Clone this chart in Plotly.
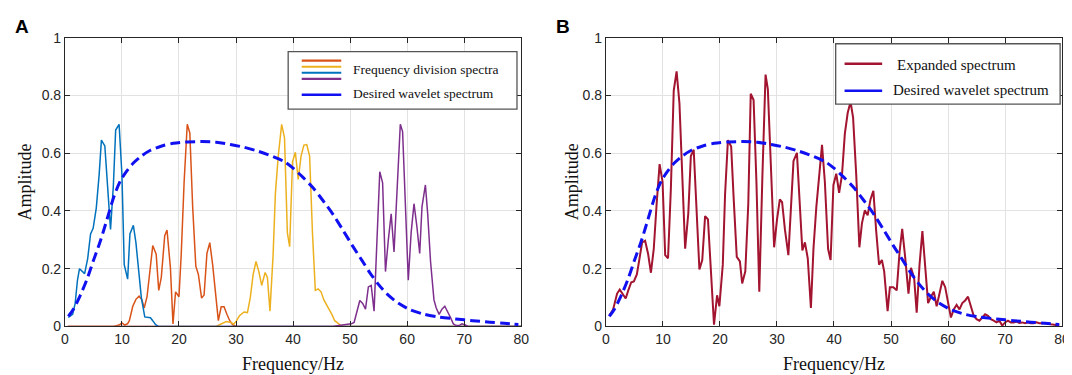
import plotly.graph_objects as go

# ---------------- data ----------------
# Desired wavelet spectrum (same curve in both panels)
wav_x = [0.6, 1.5, 2.7, 3.9, 5.0, 6.2, 7.4, 8.6, 9.7, 10.8, 12.0, 13.4, 15.0, 17.0, 19.0, 21.5, 24.0,
         26.5, 29.0, 31.5, 34.0, 36.5, 38.5, 40.0, 41.7, 43.5, 45.2, 47.0, 48.7, 50.4, 52.1, 53.5, 55.0,
         56.5, 58.5, 60.5, 63.0, 65.5, 68.5, 71.5, 74.5, 77.0, 79.5]
wav_y = [0.035, 0.06, 0.108, 0.165, 0.228, 0.295, 0.372, 0.45, 0.503, 0.537, 0.566, 0.59, 0.61, 0.625,
         0.634, 0.639, 0.64, 0.638, 0.63, 0.62, 0.606, 0.588, 0.57, 0.548, 0.517, 0.48, 0.437, 0.388,
         0.335, 0.28, 0.228, 0.185, 0.145, 0.112, 0.08, 0.058, 0.042, 0.033, 0.026, 0.02, 0.015, 0.011, 0.007]

# Frequency division spectra (panel A)
blue_x = [0.6, 1.36, 1.8, 2.2, 2.56, 3.46, 4.0, 4.5, 4.95, 5.5, 6.0, 6.4, 7.0, 7.45, 8.0, 8.5, 8.9, 9.5,
          10.0, 10.4, 11.0, 11.4, 12.0, 12.45, 12.9, 13.4, 14.0, 14.5, 15.0, 15.4, 15.9, 16.4, 80.0]
blue_y = [0.031, 0.042, 0.08, 0.16, 0.20, 0.183, 0.236, 0.32, 0.34, 0.41, 0.525, 0.645, 0.625, 0.49,
          0.336, 0.49, 0.68, 0.70, 0.525, 0.214, 0.164, 0.32, 0.35, 0.29, 0.20, 0.10, 0.033, 0.031,
          0.03, 0.02, 0.006, 0.0, 0.0]

orange_x = [0.5, 8.5, 9.5, 10.0, 10.5, 11.0, 11.3, 11.9, 12.45, 13.0, 13.5, 13.9, 14.4, 14.95, 15.4,
            16.0, 16.45, 16.9, 17.5, 17.9, 18.5, 18.95, 19.4, 20.0, 20.4, 20.9, 21.45, 21.9, 22.4,
            22.95, 23.4, 23.96, 24.4, 24.9, 25.4, 25.9, 26.4, 26.9, 27.4, 27.9, 28.4, 28.9, 29.4,
            30.0, 80.0]
orange_y = [0.0, 0.0, 0.005, 0.012, 0.005, 0.01, 0.02, 0.07, 0.094, 0.105, 0.092, 0.064, 0.103, 0.214,
            0.28, 0.25, 0.125, 0.17, 0.314, 0.334, 0.203, 0.009, 0.12, 0.103, 0.253, 0.50, 0.70, 0.67,
            0.414, 0.209, 0.18, 0.098, 0.109, 0.253, 0.29, 0.214, 0.114, 0.02, 0.068, 0.068, 0.042,
            0.02, 0.006, 0.0, 0.0]

yellow_x = [0.5, 26.5, 27.1, 28.3, 29.1, 29.6, 30.1, 30.6, 31.4, 32.0, 32.5, 33.0, 33.5, 34.0, 34.5,
            35.1, 35.5, 35.95, 36.5, 36.9, 37.4, 38.0, 38.5, 39.0, 39.4, 39.9, 40.4, 40.9, 41.4, 41.9,
            42.4, 42.9, 43.4, 43.9, 44.4, 44.9, 45.4, 45.9, 46.3, 46.8, 47.3, 47.8, 48.4, 49.0, 80.0]
yellow_y = [0.0, 0.0, 0.006, 0.017, 0.014, 0.008, 0.02, 0.037, 0.05, 0.048, 0.10, 0.18, 0.225, 0.19,
            0.142, 0.187, 0.17, 0.053, 0.248, 0.46, 0.59, 0.70, 0.653, 0.325, 0.276, 0.57, 0.603,
            0.509, 0.59, 0.628, 0.63, 0.59, 0.325, 0.125, 0.13, 0.12, 0.092, 0.075, 0.064, 0.042,
            0.02, 0.011, 0.003, 0.0, 0.0]

purple_x = [0.5, 47.0, 48.0, 49.0, 50.2, 50.7, 51.25, 51.7, 52.2, 52.7, 53.2, 53.7, 54.2, 54.7, 55.2,
            55.7, 56.2, 56.7, 57.2, 57.7, 58.2, 58.8, 59.2, 59.7, 60.2, 60.7, 61.2, 61.7, 62.2, 62.6,
            63.2, 63.6, 64.1, 64.7, 65.1, 65.6, 66.1, 66.6, 67.1, 67.6, 68.1, 68.6, 69.1, 69.6, 70.1,
            70.6, 80.0]
purple_y = [0.0, 0.0, 0.003, 0.005, 0.009, 0.014, 0.06, 0.09, 0.08, 0.06, 0.137, 0.142, 0.053, 0.30,
            0.536, 0.497, 0.19, 0.30, 0.39, 0.258, 0.48, 0.70, 0.675, 0.436, 0.16, 0.325, 0.425,
            0.347, 0.253, 0.414, 0.49, 0.39, 0.225, 0.092, 0.064, 0.042, 0.06, 0.07, 0.053, 0.031,
            0.009, 0.003, 0.003, 0.009, 0.006, 0.001, 0.0]

# Expanded spectrum (panel B)
red_x = [0.58, 1.27, 1.97, 2.43, 2.89, 3.47, 3.93, 4.45, 4.91, 5.43, 5.9, 6.36, 6.88, 7.4, 7.9, 8.4,
         8.9, 9.42, 9.94, 10.4, 10.9, 11.4, 11.9, 12.4, 12.9, 13.4, 13.9, 14.45, 14.9, 15.4, 15.8,
         16.4, 16.9, 17.4, 17.9, 18.4, 18.96, 19.5, 19.9, 20.5, 20.9, 21.4, 21.97, 22.4, 22.95, 23.5,
         23.9, 24.45, 24.97, 25.4, 25.9, 26.4, 26.9, 27.45, 28.0, 28.4, 28.96, 29.5, 30.0, 30.5, 30.9,
         31.4, 32.0, 32.5, 32.9, 33.5, 33.9, 34.45, 34.9, 35.4, 35.95, 36.4, 36.9, 37.4, 37.9, 38.4,
         38.96, 39.4, 39.9, 40.4, 40.9, 41.4, 41.9, 42.4, 42.9, 43.35, 43.9, 44.45, 44.9, 45.4, 45.9,
         46.4, 46.9, 47.4, 47.9, 48.4, 48.8, 49.4, 49.8, 50.4, 51.0, 51.5, 51.96, 52.5, 53.06, 53.5,
         54.05, 54.5, 55.0, 55.5, 56.0, 56.5, 57.0, 57.5, 58.0, 58.55, 59.0, 59.5, 60.0, 60.5, 61.0,
         61.5, 62.0, 62.5, 63.0, 63.5, 64.0, 64.5, 65.0, 65.5, 66.0, 66.5, 67.0, 67.5, 68.0, 68.5,
         69.0, 69.5, 70.0, 70.5, 71.0, 71.5, 72.0, 72.5, 73.0, 73.5, 74.0, 74.5, 75.0, 75.5, 76.0,
         76.5, 77.0, 77.5, 78.0, 78.5, 79.0, 79.5]
red_y = [0.037, 0.059, 0.114, 0.128, 0.114, 0.097, 0.125, 0.153, 0.156, 0.18, 0.236, 0.291, 0.297,
         0.252, 0.186, 0.269, 0.424, 0.562, 0.501, 0.247, 0.236, 0.479, 0.817, 0.883, 0.773, 0.501,
         0.269, 0.391, 0.59, 0.612, 0.457, 0.197, 0.23, 0.382, 0.371, 0.191, 0.006, 0.108, 0.07,
         0.214, 0.457, 0.645, 0.623, 0.446, 0.241, 0.225, 0.149, 0.191, 0.424, 0.806, 0.784, 0.50,
         0.12, 0.524, 0.872, 0.822, 0.557, 0.274, 0.369, 0.44, 0.43, 0.335, 0.247, 0.413, 0.573,
         0.601, 0.446, 0.263, 0.291, 0.236, 0.064, 0.269, 0.413, 0.535, 0.629, 0.50, 0.269, 0.23,
         0.49, 0.529, 0.463, 0.524, 0.667, 0.739, 0.778, 0.723, 0.524, 0.274, 0.357, 0.402, 0.385,
         0.44, 0.47, 0.33, 0.214, 0.23, 0.191, 0.053, 0.136, 0.136, 0.125, 0.258, 0.338, 0.236,
         0.114, 0.203, 0.169, 0.048, 0.214, 0.33, 0.214, 0.081, 0.103, 0.12, 0.07, 0.114, 0.158,
         0.136, 0.086, 0.031, 0.059, 0.075, 0.059, 0.081, 0.09, 0.103, 0.07, 0.037, 0.025, 0.02,
         0.031, 0.042, 0.037, 0.025, 0.02, 0.014, 0.02, 0.003, 0.014, 0.02, 0.014, 0.014, 0.017,
         0.012, 0.014, 0.011, 0.014, 0.011, 0.011, 0.014, 0.011, 0.011, 0.009, 0.011, 0.008, 0.006,
         0.006, 0.003]

x_ticks = [0, 10, 20, 30, 40, 50, 60, 70, 80]
y_ticks = [0, 0.2, 0.4, 0.6, 0.8, 1]
legend_a = ["Frequency division spectra", "Desired wavelet spectrum"]
legend_b = ["Expanded spectrum", "Desired wavelet spectrum"]
panel_labels = ["A", "B"]
x_title = "Frequency/Hz"
y_title = "Amplitude"

# ---------------- styling ----------------
W, H = 1072, 375
C_ORANGE = "#D95319"
C_YELLOW = "#EDB120"
C_BLUE = "#0072BD"
C_PURPLE = "#7E2F8E"
C_RED = "#A2142F"
C_DASH = "#1010F0"
AX = "#262626"
SERIF = "Liberation Serif"
SANS = "Liberation Sans"


def fx(p):
    return p / W


def fy(p):
    return 1 - p / H


xa_dom = [fx(53.5), fx(515)]
xb_dom = [fx(600.6), fx(1062)]
y_dom = [fy(324.3), fy(22.6)]

fig = go.Figure()

for xs, ys, c in [(orange_x, orange_y, C_ORANGE), (yellow_x, yellow_y, C_YELLOW),
                  (blue_x, blue_y, C_BLUE), (purple_x, purple_y, C_PURPLE)]:
    fig.add_trace(go.Scatter(x=xs, y=ys, mode="lines", line=dict(color=c, width=1.5),
                             showlegend=False, xaxis="x", yaxis="y"))
fig.add_trace(go.Scatter(x=wav_x, y=wav_y, mode="lines", line=dict(color=C_DASH, width=3,
                         dash="10px,5px", shape="spline", smoothing=0.8),
                         showlegend=False, xaxis="x", yaxis="y"))

fig.add_trace(go.Scatter(x=red_x, y=red_y, mode="lines", line=dict(color=C_RED, width=2),
                         showlegend=False, xaxis="x2", yaxis="y2"))
fig.add_trace(go.Scatter(x=wav_x, y=wav_y, mode="lines", line=dict(color=C_DASH, width=3,
                         dash="10px,5px", shape="spline", smoothing=0.8),
                         showlegend=False, xaxis="x2", yaxis="y2"))

common = dict(showgrid=True, gridcolor="#e2e2e2", gridwidth=1, showline=True, linecolor=AX,
              linewidth=1, mirror="allticks", ticks="inside", ticklen=5, tickcolor=AX,
              zeroline=False, tickfont=dict(family=SANS, size=14, color=AX))
xcommon = dict(common, range=[0, 80], tickvals=x_ticks, ticktext=[str(v) for v in x_ticks])
ycommon = dict(common, range=[0, 1], tickvals=y_ticks, ticktext=[f"{v:g}" for v in y_ticks])

fig.update_layout(
    width=W, height=H, margin=dict(l=0, r=0, t=0, b=0),
    paper_bgcolor="white", plot_bgcolor="white", showlegend=False,
    xaxis=dict(xcommon, domain=xa_dom, anchor="y"),
    yaxis=dict(ycommon, domain=y_dom, anchor="x"),
    xaxis2=dict(xcommon, domain=xb_dom, anchor="y2"),
    yaxis2=dict(ycommon, domain=y_dom, anchor="x2"),
)

shapes = []
ann = []

# Legend A
shapes.append(dict(type="rect", xref="paper", yref="paper", x0=fx(279.3), x1=fx(510.7),
                   y0=fy(97.3), y1=fy(37.3), line=dict(color="#555555", width=1.3),
                   fillcolor="white", layer="above"))
for yy, c in [(46.7, C_ORANGE), (53.0, C_YELLOW), (59.3, C_BLUE), (65.6, C_PURPLE)]:
    shapes.append(dict(type="line", xref="paper", yref="paper", x0=fx(293), x1=fx(333),
                       y0=fy(yy), y1=fy(yy), line=dict(color=c, width=2.2), layer="above"))
shapes.append(dict(type="line", xref="paper", yref="paper", x0=fx(293), x1=fx(333),
                   y0=fy(82.3), y1=fy(82.3), line=dict(color=C_DASH, width=2.5), layer="above"))
ann.append(dict(text=legend_a[0], x=fx(343), y=fy(56), xref="paper", yref="paper",
                xanchor="left", yanchor="middle", showarrow=False,
                font=dict(family=SERIF, size=13.5, color="#111111")))
ann.append(dict(text=legend_a[1], x=fx(343), y=fy(81), xref="paper", yref="paper",
                xanchor="left", yanchor="middle", showarrow=False,
                font=dict(family=SERIF, size=13.5, color="#111111")))

# Legend B
shapes.append(dict(type="rect", xref="paper", yref="paper", x0=fx(833), x1=fx(1060),
                   y0=fy(92), y1=fy(29), line=dict(color="#555555", width=1.3),
                   fillcolor="white", layer="above"))
shapes.append(dict(type="line", xref="paper", yref="paper", x0=fx(842), x1=fx(880),
                   y0=fy(50), y1=fy(50), line=dict(color=C_RED, width=2.5), layer="above"))
shapes.append(dict(type="line", xref="paper", yref="paper", x0=fx(842), x1=fx(880),
                   y0=fy(78), y1=fy(78), line=dict(color=C_DASH, width=2.5), layer="above"))
ann.append(dict(text=legend_b[0], x=fx(893), y=fy(51), xref="paper", yref="paper",
                xanchor="left", yanchor="middle", showarrow=False,
                font=dict(family=SERIF, size=15, color="#111111")))
ann.append(dict(text=legend_b[1], x=fx(889), y=fy(77), xref="paper", yref="paper",
                xanchor="left", yanchor="middle", showarrow=False,
                font=dict(family=SERIF, size=15, color="#111111")))

# Axis titles and panel labels
for cx in [(53.5 + 515) / 2, (600.6 + 1062) / 2]:
    ann.append(dict(text=x_title, x=fx(cx), y=fy(364), xref="paper", yref="paper",
                    xanchor="center", yanchor="middle", showarrow=False,
                    font=dict(family=SERIF, size=18, color="#111111")))
for cxp in [13, 566]:
    ann.append(dict(text=y_title, x=fx(cxp), y=fy(173), xref="paper", yref="paper",
                    xanchor="center", yanchor="middle", showarrow=False, textangle=-90,
                    font=dict(family=SERIF, size=18, color="#111111")))
for lab, cx in zip(panel_labels, [10, 557]):
    ann.append(dict(text=f"<b>{lab}</b>", x=fx(cx), y=fy(11), xref="paper", yref="paper",
                    xanchor="center", yanchor="middle", showarrow=False,
                    font=dict(family=SANS, size=19, color="#000000")))

fig.update_layout(shapes=shapes, annotations=ann)
fig.write_html("out.html")
